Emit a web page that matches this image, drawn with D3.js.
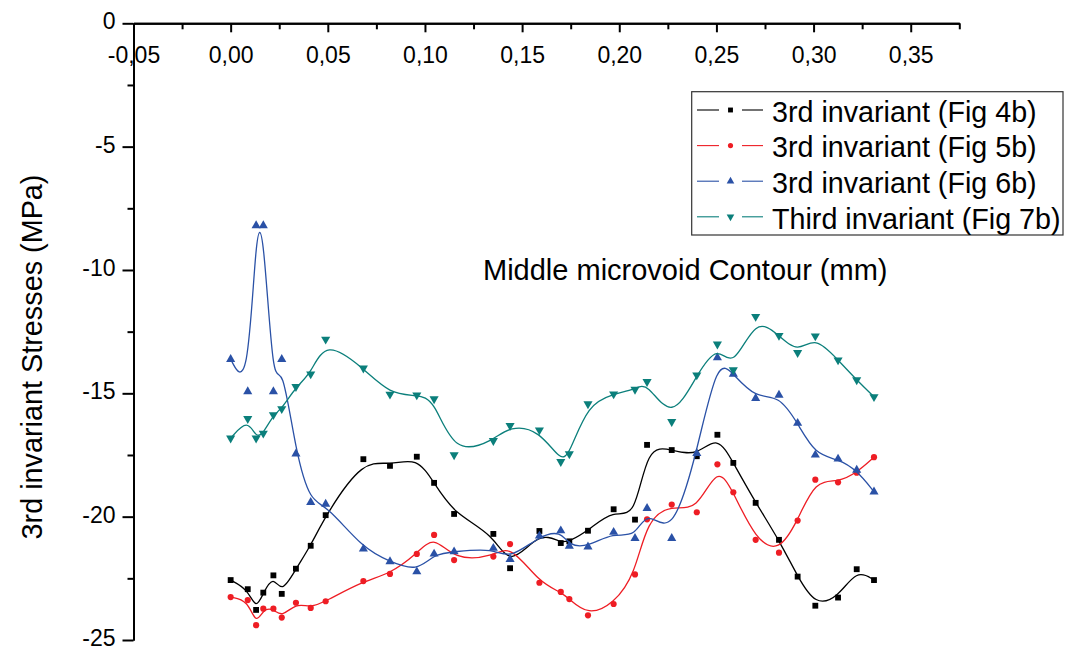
<!DOCTYPE html>
<html>
<head>
<meta charset="utf-8">
<script src="https://cdn.jsdelivr.net/npm/d3@7"></script>
<style>
  html, body { margin: 0; padding: 0; background: #fff; }
  svg, svg text { font-family: "Liberation Sans", Arimo, Arial, sans-serif; }
</style>
</head>
<body>
<svg id="chart" width="1068" height="650"></svg>
<script>
// Position along the middle microvoid contour (mm)
const contour = [0.0000, 0.0088, 0.0131, 0.0168, 0.0220, 0.0263, 0.0336, 0.0412, 0.0489, 0.0683,
                 0.0820, 0.0958, 0.1047, 0.1150, 0.1352, 0.1438, 0.1589, 0.1699, 0.1743, 0.1839,
                 0.1971, 0.2081, 0.2143, 0.2270, 0.2399, 0.2505, 0.2587, 0.2702, 0.2822, 0.2918,
                 0.3009, 0.3126, 0.3222, 0.3311];

// 3rd invariant stresses (MPa)
const fig4b = [-22.57, -22.94, -23.78, -23.08, -22.38, -23.13, -22.11, -21.18, -19.94, -17.67,
               -17.94, -17.57, -18.63, -19.89, -20.70, -22.09, -20.58, -21.07, -21.00, -20.57,
               -19.70, -20.12, -17.09, -17.30, -17.55, -16.68, -17.82, -19.44, -20.94, -22.43,
               -23.61, -23.28, -22.13, -22.57];
const fig5b = [-23.26, -23.38, -24.40, -23.73, -23.73, -24.09, -23.49, -23.70, -23.43, -22.61,
               -22.32, -21.51, -20.74, -21.76, -21.62, -21.11, -22.68, -23.05, -23.34, -24.00,
               -23.54, -22.34, -20.11, -19.51, -19.82, -17.88, -19.01, -20.94, -21.46, -20.16,
               -18.50, -18.61, -18.22, -17.59];
const fig6b = [-13.62, -14.93, -8.20, -8.20, -14.93, -13.62, -17.45, -19.42, -19.49, -21.31,
               -21.82, -22.23, -21.51, -21.42, -21.28, -21.73, -20.78, -20.57, -21.19, -21.22,
               -20.63, -20.88, -19.66, -20.88, -17.43, -13.55, -14.22, -15.20, -15.07, -16.21,
               -17.50, -17.66, -18.11, -18.99];
const fig7b = [-16.82, -16.03, -16.82, -16.62, -15.87, -15.63, -14.73, -14.22, -12.81, -13.98,
               -15.04, -15.07, -15.23, -17.50, -16.92, -16.31, -16.49, -17.77, -17.46, -15.43,
               -15.03, -14.84, -14.53, -16.15, -14.26, -13.01, -14.05, -11.89, -12.66, -13.35,
               -12.68, -13.65, -14.46, -15.14];

const seriesNames = ["3rd invariant (Fig 4b)", "3rd invariant (Fig 5b)",
                     "3rd invariant (Fig 6b)", "Third invariant (Fig 7b)"];

// Axis ticks
const xMajorTicks = [-0.05, 0, 0.05, 0.10, 0.15, 0.20, 0.25, 0.30, 0.35];
const xMinorTicks = [-0.025, 0.025, 0.075, 0.125, 0.175, 0.225, 0.275, 0.325, 0.375];
const yMajorTicks = [0, -5, -10, -15, -20, -25];
const yMinorTicks = [-2.5, -7.5, -12.5, -17.5, -22.5];

const FONT = "'Liberation Sans', Arimo, Arial, sans-serif";
const svg = d3.select("#chart");

const x = d3.scaleLinear().domain([-0.05, 0.375]).range([133.5, 959.3]);
const y = d3.scaleLinear().domain([0, -25]).range([23.3, 640]);

const locale = d3.formatLocale({decimal: ",", thousands: ".", grouping: [3], currency: ["", ""], minus: "-"});
const fmtX = locale.format(".2f");
const fmtY = locale.format("d");

const series = [
  {name: seriesNames[0], values: fig4b, color: "#000000", symbol: d3.symbolSquare,   size: 34, rot: 0},
  {name: seriesNames[1], values: fig5b, color: "#ee1d24", symbol: d3.symbolCircle,   size: 30, rot: 0},
  {name: seriesNames[2], values: fig6b, color: "#2a51a6", symbol: d3.symbolTriangle, size: 36, rot: 0},
  {name: seriesNames[3], values: fig7b, color: "#0b7f7b", symbol: d3.symbolTriangle, size: 36, rot: 180}
];

// B-spline connected curves with markers
const line = d3.line().x(d => x(d[0])).y(d => y(d[1])).curve(d3.curveBasis);

series.forEach(s => {
  const pts = contour.map((c, i) => [c, s.values[i]]);
  const g = svg.append("g");
  g.append("path")
    .attr("d", line(pts))
    .attr("fill", "none")
    .attr("stroke", s.color)
    .attr("stroke-width", 1.3);
  g.selectAll("path.m").data(pts).enter().append("path")
    .attr("class", "m")
    .attr("d", d3.symbol().type(s.symbol).size(s.size))
    .attr("transform", d => `translate(${x(d[0])},${y(d[1])}) rotate(${s.rot})`)
    .attr("fill", s.color);
});

// X axis along the top (y = 0)
const xAxisG = svg.append("g").attr("transform", `translate(0,${y(0)})`);
xAxisG.call(d3.axisBottom(x).tickValues(xMajorTicks).tickSize(9).tickSizeOuter(0).tickFormat(fmtX));
const xMinorG = svg.append("g").attr("transform", `translate(0,${y(0)})`);
xMinorG.call(d3.axisBottom(x).tickValues(xMinorTicks).tickSize(6).tickSizeOuter(0).tickFormat(""));
[xAxisG, xMinorG].forEach(g => {
  g.attr("font-family", FONT);
  g.select(".domain").attr("stroke", "#000").attr("stroke-width", 2);
  g.selectAll(".tick line").attr("stroke", "#000").attr("stroke-width", 2);
});
xAxisG.selectAll(".tick text")
  .attr("y", 0).attr("dy", null)
  .attr("transform", "translate(0,40)")
  .attr("font-size", 23).attr("fill", "#000")
  .attr("font-family", FONT);

// Y axis on the left
const yAxisG = svg.append("g").attr("transform", `translate(${x(-0.05)},0)`);
yAxisG.call(d3.axisLeft(y).tickValues(yMajorTicks).tickSize(11).tickSizeOuter(0).tickFormat(fmtY));
const yMinorG = svg.append("g").attr("transform", `translate(${x(-0.05)},0)`);
yMinorG.call(d3.axisLeft(y).tickValues(yMinorTicks).tickSize(6).tickSizeOuter(0).tickFormat(""));
[yAxisG, yMinorG].forEach(g => {
  g.attr("font-family", FONT);
  g.select(".domain").attr("stroke", "#000").attr("stroke-width", 2);
  g.selectAll(".tick line").attr("stroke", "#000").attr("stroke-width", 2);
});
yAxisG.selectAll(".tick text")
  .attr("x", -18).attr("dy", null).attr("y", 5.5)
  .attr("font-size", 23).attr("fill", "#000")
  .attr("font-family", FONT);

// Axis titles
svg.append("text")
  .attr("transform", "translate(42,357) rotate(-90)")
  .attr("text-anchor", "middle")
  .attr("font-family", FONT)
  .attr("font-size", 28.8)
  .attr("fill", "#000")
  .text("3rd invariant Stresses (MPa)");

svg.append("text")
  .attr("x", 483).attr("y", 280)
  .attr("font-family", FONT)
  .attr("font-size", 29)
  .attr("fill", "#000")
  .text("Middle microvoid Contour (mm)");

// Legend
const legend = svg.append("g").attr("font-family", FONT);
legend.append("rect")
  .attr("x", 691.7).attr("y", 91.7)
  .attr("width", 371.3).attr("height", 143.3)
  .attr("fill", "#fff").attr("stroke", "#333").attr("stroke-width", 1.2);
series.forEach((s, i) => {
  const cy = 110 + i * 35.6;
  const row = legend.append("g");
  row.append("line").attr("x1", 697).attr("x2", 719).attr("y1", cy).attr("y2", cy)
    .attr("stroke", s.color).attr("stroke-width", 1.1);
  row.append("line").attr("x1", 742).attr("x2", 763).attr("y1", cy).attr("y2", cy)
    .attr("stroke", s.color).attr("stroke-width", 1.1);
  row.append("path")
    .attr("d", d3.symbol().type(s.symbol).size(s.size * 0.7))
    .attr("transform", `translate(730.5,${cy}) rotate(${s.rot})`)
    .attr("fill", s.color);
  row.append("text")
    .attr("x", 772).attr("y", cy + 11.7)
    .attr("font-family", FONT)
    .attr("font-size", 28.7)
    .attr("fill", "#000")
    .text(s.name);
});
</script>
</body>
</html>
